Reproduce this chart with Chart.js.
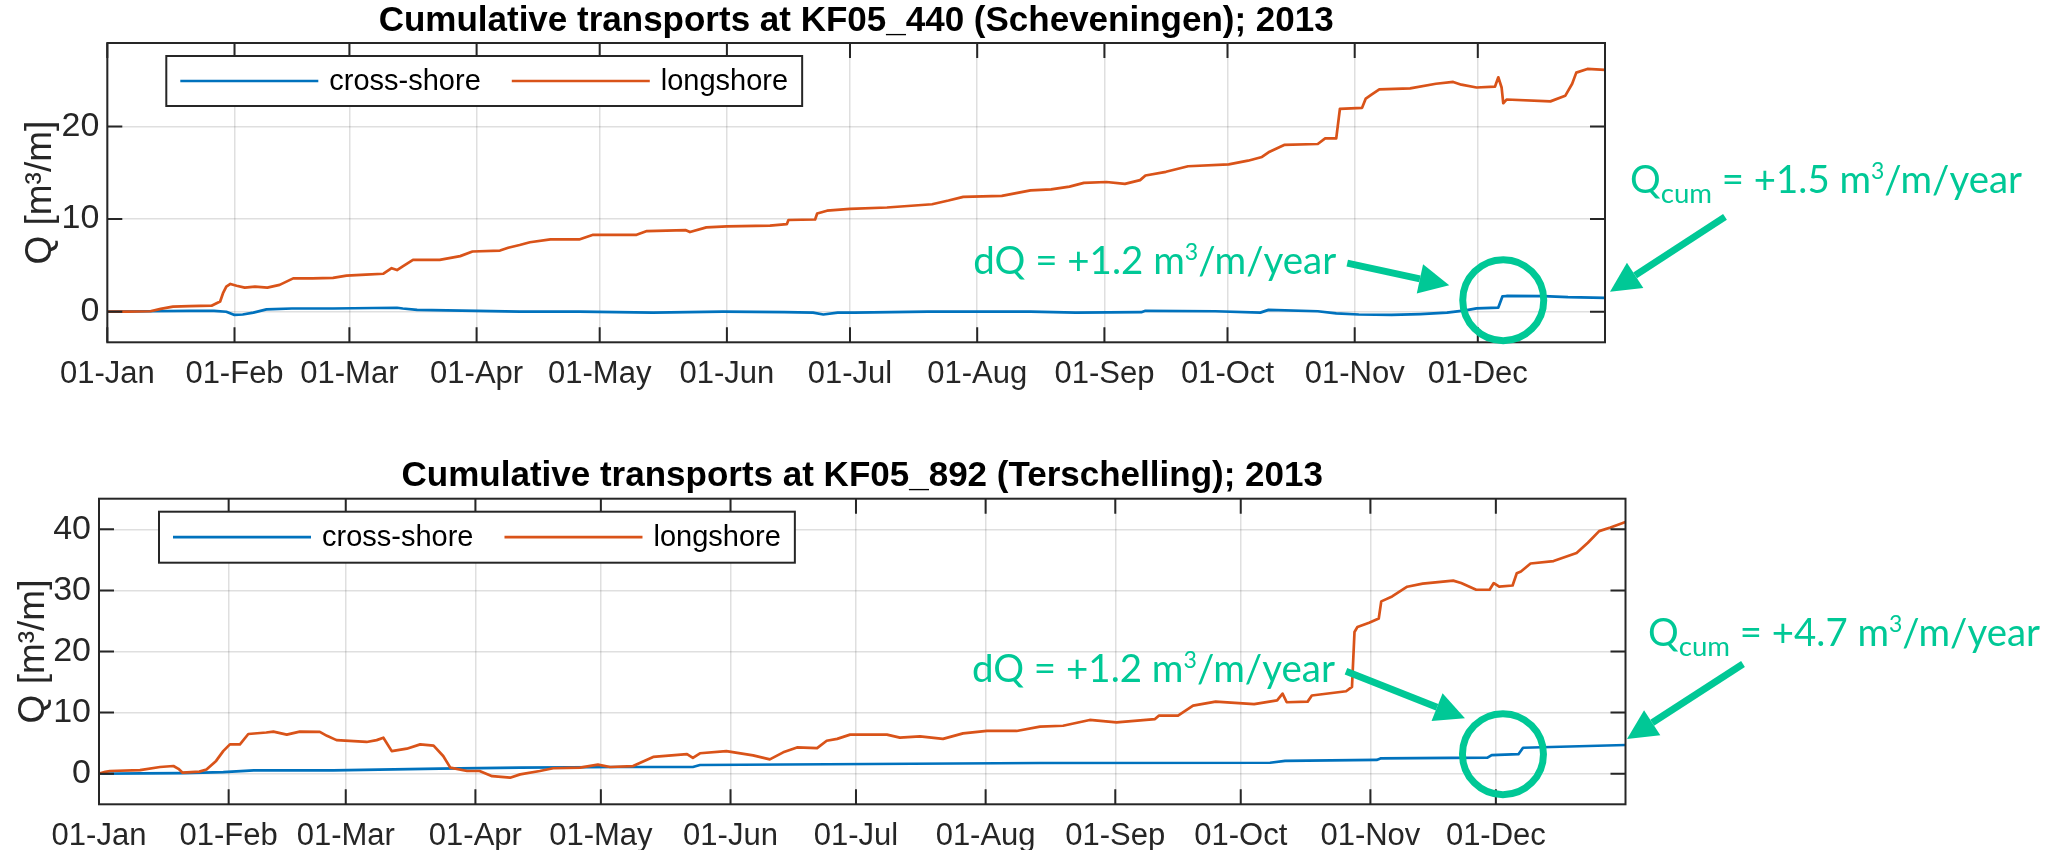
<!DOCTYPE html>
<html>
<head>
<meta charset="utf-8">
<title>Cumulative transports 2013</title>
<script src="https://cdn.jsdelivr.net/npm/chart.js@4.4.1/dist/chart.umd.min.js"></script>
<style>
  html, body { margin: 0; padding: 0; background: #ffffff; }
  body { width: 2062px; height: 850px; position: relative; overflow: hidden; }
  canvas { position: absolute; left: 0; }
  #kf440 { top: 0; }
  #kf892 { top: 420px; }
</style>
</head>
<body>
<canvas id="kf440" width="2062" height="410"></canvas>
<canvas id="kf892" width="2062" height="430"></canvas>
<script>
// ---- axis ticks: first day of each month (day of year, 0 = 1 Jan 2013) ----
const monthDays = [0, 31, 59, 90, 120, 151, 181, 212, 243, 273, 304, 334];
const monthLabels = ['01-Jan', '01-Feb', '01-Mar', '01-Apr', '01-May', '01-Jun',
                     '01-Jul', '01-Aug', '01-Sep', '01-Oct', '01-Nov', '01-Dec'];
const kf440Ticks = [0, 10, 20];
const kf892Ticks = [0, 10, 20, 30, 40];

// ---- KF05_440 (Scheveningen): cumulative transport Q [m3/m] ----
const kf440CrossDay = [0, 10, 20, 26, 29, 31, 33, 35.6, 38.8, 45, 55, 65, 70.6, 72, 75.5, 90, 100.5, 115,
  133, 150, 165, 172, 174.5, 178, 182, 200, 225, 236, 252, 253, 270, 281, 283, 295, 299.5, 305, 313,
  320, 326.5, 331, 333.7, 339, 340, 341, 350, 356, 365];
const kf440CrossQ = [0, 0.05, 0.1, 0.1, 0.0, -0.35, -0.3, -0.1, 0.25, 0.35, 0.35, 0.4, 0.43, 0.35, 0.2, 0.1, 0.0, 0.0,
  -0.1, 0.0, -0.05, -0.1, -0.3, -0.1, -0.1, 0.0, 0.0, -0.1, -0.05, 0.1, 0.05, -0.1, 0.2, 0.05, -0.17, -0.3, -0.35,
  -0.25, -0.1, 0.15, 0.36, 0.45, 1.65, 1.7, 1.68, 1.57, 1.5];

const kf440LongDay = [0, 5, 10.5, 13, 16, 20, 25.4, 27.5, 28.2, 29, 30, 31.5, 33.5, 36, 39, 42, 45.3, 50, 55,
  58.3, 63, 67.3, 69.3, 70.6, 72, 74.5, 81, 86, 89, 95.7, 97.7, 100.5, 103, 108, 115, 118.4, 129, 131.5,
  141, 142, 146, 151, 161.5, 165.6, 166, 172.5, 173, 175.4, 181, 190, 201, 205, 208.6, 218, 225, 230,
  234.5, 238, 243.5, 248, 251.7, 253, 258, 263.4, 273.3, 278, 281.4, 283, 286.8, 295, 296.8, 299.5,
  300.4, 305.8, 306.7, 308, 310, 317.5, 323.8, 328, 330, 333.7, 338.2, 339, 339.8, 340.2, 341, 351.7,
  355.3, 357, 358, 360.7, 365];
const kf440LongQ = [0, 0, 0.05, 0.3, 0.55, 0.6, 0.65, 1.1, 2.0, 2.7, 3.0, 2.8, 2.6, 2.7, 2.6, 2.9, 3.6, 3.6, 3.66,
  3.9, 4.0, 4.1, 4.7, 4.5, 4.9, 5.6, 5.6, 6.0, 6.5, 6.6, 6.9, 7.2, 7.5, 7.8, 7.8, 8.3, 8.3, 8.7,
  8.8, 8.6, 9.1, 9.2, 9.3, 9.45, 9.9, 9.95, 10.6, 10.9, 11.1, 11.25, 11.6, 12.0, 12.4, 12.5, 13.1, 13.2,
  13.5, 13.9, 14.0, 13.8, 14.2, 14.7, 15.1, 15.7, 15.9, 16.3, 16.7, 17.2, 18.0, 18.1, 18.7, 18.7,
  21.9, 22.0, 23.0, 23.4, 24.0, 24.1, 24.6, 24.8, 24.5, 24.2, 24.3, 25.3, 24.2, 22.5, 22.9, 22.7,
  23.3, 24.6, 25.8, 26.2, 26.1];

// ---- KF05_892 (Terschelling): cumulative transport Q [m3/m] ----
const kf892CrossDay = [0, 10, 20, 29.7, 37, 56, 81.5, 100.7, 124.6, 142, 143.7, 225, 280, 283.6, 305.5, 306.4,
  332, 333, 339.4, 340.5, 365];
const kf892CrossQ = [0, 0.05, 0.1, 0.28, 0.55, 0.55, 0.83, 1.0, 1.1, 1.1, 1.43, 1.76, 1.8, 2.1, 2.26, 2.5,
  2.64, 3.05, 3.2, 4.25, 4.7];

const kf892LongDay = [0, 1.5, 2.6, 9.8, 14.6, 17.8, 19, 20, 24, 25.7, 28, 29.7, 31.3, 33.7, 35.7, 40, 41.7, 44.9,
  48, 52.8, 54.5, 56.8, 64, 66.4, 68, 70, 73.6, 76.8, 80, 82.3, 84, 88, 91, 94, 98.3, 100.7, 105.4,
  108.6, 115, 119.3, 122.2, 127.7, 132.5, 140.6, 142, 143.7, 150, 156.4, 160.4, 163.6, 166.9, 171.7,
  174, 176.5, 179.6, 188.4, 191.5, 196.3, 201.8, 206.6, 212.3, 219.4, 225, 230.5, 236.9, 243.3, 252.5,
  253.4, 258, 261.6, 267, 276.2, 281.7, 283, 284, 289, 290, 298.2, 299.6, 300.2, 300.9, 303.7, 306,
  306.6, 309.2, 312.8, 316.5, 323.8, 325.7, 329.3, 332.5, 333.5, 334.8, 338, 339, 340, 342.3, 347.8,
  353.3, 356, 358.7, 361.4, 365];
const kf892LongQ = [0, 0.3, 0.45, 0.6, 1.1, 1.27, 0.8, 0.17, 0.35, 0.7, 2.1, 3.7, 4.8, 4.8, 6.5, 6.75, 6.9, 6.4,
  6.9, 6.85, 6.2, 5.5, 5.2, 5.5, 5.9, 3.7, 4.1, 4.8, 4.6, 2.9, 1.0, 0.45, 0.45, -0.4, -0.65, -0.1, 0.45,
  0.9, 1.0, 1.5, 1.1, 1.25, 2.75, 3.2, 2.6, 3.35, 3.7, 3.0, 2.35, 3.5, 4.3, 4.2,
  5.4, 5.7, 6.4, 6.4, 5.9, 6.1, 5.7, 6.6, 7.0, 7.0, 7.7, 7.85, 8.8, 8.4, 8.95,
  9.5, 9.5, 11.15, 11.8, 11.4, 12.0, 13.1, 11.7, 11.8, 12.8, 13.5, 14.2, 23.2, 24.0, 24.7, 25.4,
  28.2, 29.0, 30.6, 31.1, 31.6, 31.2, 30.1, 30.1, 31.2, 30.6, 30.8, 32.8, 33.1, 34.4, 34.8,
  36.1, 37.8, 39.7, 40.3, 41.2];

const INK = '#262626';
const GREEN = '#00c896';
const BLUE = '#0072BD';
const ORANGE = '#D95319';
const SANS = "'Liberation Sans', Arial, Helvetica, sans-serif";
const NOTE_FONT = "Lato, 'Open Sans', sans-serif";

const toPoints = (days, q) => days.map((d, i) => ({ x: d, y: q[i] }));

// Box around the axes with inward ticks on all four sides
const axesFrame = {
  id: 'axesFrame',
  afterDatasetsDraw(chart) {
    const { ctx, chartArea: a, scales: { x, y } } = chart;
    const len = 15;
    ctx.save();
    ctx.strokeStyle = INK;
    ctx.lineWidth = 2;
    ctx.beginPath();
    x.ticks.forEach(t => {
      const px = x.getPixelForValue(t.value);
      ctx.moveTo(px, a.bottom); ctx.lineTo(px, a.bottom - len);
      ctx.moveTo(px, a.top); ctx.lineTo(px, a.top + len);
    });
    y.ticks.forEach(t => {
      const py = y.getPixelForValue(t.value);
      ctx.moveTo(a.left, py); ctx.lineTo(a.left + len, py);
      ctx.moveTo(a.right, py); ctx.lineTo(a.right - len, py);
    });
    ctx.stroke();
    ctx.strokeRect(a.left, a.top, a.width, a.height);
    ctx.restore();
  }
};

// Boxed legend inside the axes, upper left
const boxedLegend = {
  id: 'boxedLegend',
  afterDraw(chart, args, opts) {
    const { ctx, chartArea: a } = chart;
    const bx = a.left + opts.dx, by = a.top + opts.dy, bh = opts.h;
    const sample = 138;
    ctx.save();
    ctx.font = `29px ${SANS}`;
    let x = bx + 14;
    const items = chart.data.datasets.map(ds => {
      const w = ctx.measureText(ds.label).width;
      const it = { ds, x, w };
      x += sample + 11 + w + 31;
      return it;
    });
    const last = items[items.length - 1];
    const bw = last.x + sample + 11 + last.w + 14 - bx;
    ctx.fillStyle = '#ffffff';
    ctx.fillRect(bx, by, bw, bh);
    ctx.strokeStyle = INK;
    ctx.lineWidth = 2;
    ctx.strokeRect(bx, by, bw, bh);
    const my = by + bh / 2;
    items.forEach(it => {
      ctx.strokeStyle = it.ds.borderColor;
      ctx.lineWidth = 2.7;
      ctx.beginPath();
      ctx.moveTo(it.x, my); ctx.lineTo(it.x + sample, my);
      ctx.stroke();
      ctx.fillStyle = '#000000';
      ctx.textBaseline = 'middle';
      ctx.textAlign = 'left';
      ctx.fillText(it.ds.label, it.x + sample + 11, my + 1);
    });
    ctx.restore();
  }
};

// Text with super/subscript pieces
function richWidth(ctx, parts, size) {
  let w = 0;
  parts.forEach(p => {
    const s = p.s ? size * (p.s === 'sup' ? 0.6 : 0.72) : size;
    ctx.font = `${s}px ${NOTE_FONT}`;
    w += ctx.measureText(p.t).width;
  });
  return w;
}
function drawRich(ctx, parts, x, base, size) {
  parts.forEach(p => {
    const s = p.s ? size * (p.s === 'sup' ? 0.6 : 0.72) : size;
    const dy = p.s === 'sup' ? -0.36 * size : (p.s === 'sub' ? 0.27 * size : 0);
    ctx.font = `${s}px ${NOTE_FONT}`;
    ctx.fillText(p.t, x, base + dy);
    x += ctx.measureText(p.t).width;
  });
}
function fitSize(ctx, parts, width) {
  return 100 * width / richWidth(ctx, parts, 100);
}
function arrow(ctx, x0, y0, x1, y1) {
  const ang = Math.atan2(y1 - y0, x1 - x0);
  const head = 30, half = 15;
  const bx = x1 - head * Math.cos(ang), by = y1 - head * Math.sin(ang);
  ctx.lineWidth = 7;
  ctx.beginPath();
  ctx.moveTo(x0, y0); ctx.lineTo(bx, by);
  ctx.stroke();
  ctx.beginPath();
  ctx.moveTo(x1, y1);
  ctx.lineTo(bx + half * Math.sin(ang), by - half * Math.cos(ang));
  ctx.lineTo(bx - half * Math.sin(ang), by + half * Math.cos(ang));
  ctx.closePath();
  ctx.fill();
}

// Ring around the December step, with the two rate labels and arrows
const rateNotes = {
  id: 'rateNotes',
  afterDraw(chart, args, o) {
    const { ctx, scales: { x, y } } = chart;
    const cross = chart.data.datasets[0].data;
    const end = cross[cross.length - 1];
    const cx = x.getPixelForValue(o.ringDay), cy = y.getPixelForValue(o.ringQ);
    const ex = x.getPixelForValue(end.x), ey = y.getPixelForValue(end.y);
    ctx.save();
    ctx.strokeStyle = GREEN;
    ctx.fillStyle = GREEN;
    ctx.lineWidth = 7;
    ctx.beginPath();
    ctx.arc(cx, cy, 40.5, 0, Math.PI * 2);
    ctx.stroke();

    const dqTail = [cx + o.dqTail[0], cy + o.dqTail[1]];
    arrow(ctx, dqTail[0], dqTail[1], cx + o.dqTip[0], cy + o.dqTip[1]);
    const cumTail = [ex + o.cumTail[0], ey + o.cumTail[1]];
    arrow(ctx, cumTail[0], cumTail[1], ex + o.cumTip[0], ey + o.cumTip[1]);

    ctx.textAlign = 'left';
    ctx.textBaseline = 'alphabetic';
    const dqParts = [{ t: `dQ = ${o.dq} m` }, { t: '3', s: 'sup' }, { t: '/m/year' }];
    const dqSize = fitSize(ctx, dqParts, 363);
    const dqW = richWidth(ctx, dqParts, dqSize);
    drawRich(ctx, dqParts, dqTail[0] - 11 - dqW, dqTail[1] + 11, dqSize);

    const cumParts = [{ t: 'Q' }, { t: 'cum', s: 'sub' }, { t: ` = ${o.cum} m` }, { t: '3', s: 'sup' }, { t: '/m/year' }];
    const cumSize = fitSize(ctx, cumParts, 392);
    drawRich(ctx, cumParts, cumTail[0] - 95, cumTail[1] + o.cumTextDy, cumSize);
    ctx.restore();
  }
};

function buildChart(id, cfg) {
  return new Chart(document.getElementById(id), {
    type: 'line',
    data: {
      datasets: [
        { label: 'cross-shore', data: toPoints(cfg.crossDay, cfg.crossQ), borderColor: BLUE, order: 1 },
        { label: 'longshore', data: toPoints(cfg.longDay, cfg.longQ), borderColor: ORANGE, order: 0 }
      ]
    },
    options: {
      responsive: false,
      devicePixelRatio: 1,
      animation: false,
      events: [],
      elements: {
        point: { radius: 0, hoverRadius: 0 },
        line: { borderWidth: 2.7, tension: 0, fill: false, borderCapStyle: 'round', borderJoinStyle: 'round' }
      },
      layout: { padding: cfg.padding },
      scales: {
        x: {
          type: 'linear',
          min: 0,
          max: 365,
          afterBuildTicks: s => { s.ticks = monthDays.map(v => ({ value: v })); },
          afterFit: s => { s.height = cfg.xHeight; },
          ticks: {
            autoSkip: false, maxRotation: 0, minRotation: 0, padding: 14,
            color: INK, font: { size: 31, family: SANS },
            callback: v => monthLabels[monthDays.indexOf(v)]
          },
          grid: { color: 'rgba(38,38,38,0.15)', lineWidth: 1.5, drawTicks: false, tickLength: 0 },
          border: { display: false }
        },
        y: {
          type: 'linear',
          min: cfg.yMin,
          max: cfg.yMax,
          afterBuildTicks: s => { s.ticks = cfg.yTicks.map(v => ({ value: v })); },
          afterFit: s => { s.width = cfg.yWidth; },
          ticks: { padding: 8, color: INK, font: { size: 34, family: SANS } },
          grid: { color: 'rgba(38,38,38,0.15)', lineWidth: 1.5, drawTicks: false, tickLength: 0 },
          border: { display: false },
          title: {
            display: true, text: 'Q [m³/m]', color: INK,
            font: { size: 37, family: SANS }, padding: { top: cfg.yTitlePad, bottom: 0 }
          }
        }
      },
      plugins: {
        legend: { display: false },
        tooltip: { enabled: false },
        title: {
          display: true, text: cfg.title, color: '#000000', fullSize: false,
          font: { size: 35, weight: 'bold', family: SANS }, padding: { top: 0, bottom: 1 }
        },
        boxedLegend: cfg.legend,
        rateNotes: cfg.notes
      }
    },
    plugins: [axesFrame, boxedLegend, rateNotes]
  });
}

buildChart('kf440', {
  title: 'Cumulative transports at KF05_440 (Scheveningen); 2013',
  crossDay: kf440CrossDay, crossQ: kf440CrossQ, longDay: kf440LongDay, longQ: kf440LongQ,
  yMin: -3.3, yMax: 29, yTicks: kf440Ticks,
  padding: { top: 0, left: 0, right: 457, bottom: 0 },
  yWidth: 107.3, xHeight: 67.7, yTitlePad: 19,
  legend: { dx: 59, dy: 13, h: 50 },
  notes: { ringDay: 340.2, ringQ: 1.25, dq: '+1.2', cum: '+1.5',
           dqTip: [-54, -15], dqTail: [-156, -37], cumTip: [5, -6], cumTail: [120, -81], cumTextDy: -24 }
});

buildChart('kf892', {
  title: 'Cumulative transports at KF05_892 (Terschelling); 2013',
  crossDay: kf892CrossDay, crossQ: kf892CrossQ, longDay: kf892LongDay, longQ: kf892LongQ,
  yMin: -5, yMax: 45, yTicks: kf892Ticks,
  padding: { top: 35.7, left: 0, right: 436.5, bottom: 0 },
  yWidth: 99, xHeight: 45.7, yTitlePad: 11.5,
  legend: { dx: 60, dy: 13, h: 51 },
  notes: { ringDay: 335.7, ringQ: 3.2, dq: '+1.2', cum: '+4.7',
           dqTip: [-38, -36], dqTail: [-157, -83], cumTip: [1.5, -6], cumTail: [117.5, -81], cumTextDy: -18 }
});
</script>
</body>
</html>
